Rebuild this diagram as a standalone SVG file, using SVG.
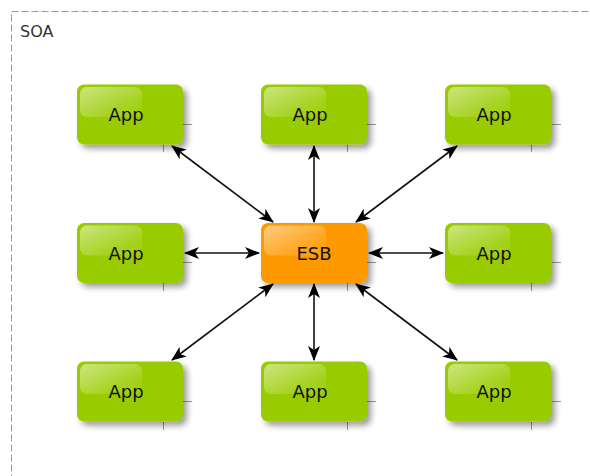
<svg xmlns="http://www.w3.org/2000/svg" width="590" height="476" viewBox="0 0 590 476">
<defs>
  <filter id="sh" x="-20%" y="-20%" width="150%" height="160%">
    <feGaussianBlur in="SourceAlpha" stdDeviation="3"/>
    <feOffset dx="4" dy="4" result="b"/>
    <feComponentTransfer><feFuncA type="linear" slope="0.4"/></feComponentTransfer>
    <feMerge><feMergeNode/><feMergeNode in="SourceGraphic"/></feMerge>
  </filter>
  <linearGradient id="gloss" x1="0" y1="0" x2="1" y2="1">
    <stop offset="0" stop-color="#fff" stop-opacity="0.5"/>
    <stop offset="0.7" stop-color="#fff" stop-opacity="0.12"/>
    <stop offset="1" stop-color="#fff" stop-opacity="0.05"/>
  </linearGradient>
  <marker id="ah" viewBox="0 0 15 12" refX="14" refY="6" markerWidth="15" markerHeight="12" markerUnits="userSpaceOnUse" orient="auto-start-reverse">
    <path d="M0,0 L15,6 L0,12 L4,6 Z" fill="#000"/>
  </marker>
</defs>
<style>
  .app rect.b { fill:#99cc00; }
  .esb rect.b { fill:#ff9900; }
  .gl { fill:url(#gloss); }
  .lbl { font-family:"DejaVu Sans",sans-serif; font-size:18px; fill:#111; text-anchor:middle; }
  .tick { stroke:#999; stroke-width:1; }
  .con line { stroke:#111; stroke-width:1.6; marker-start:url(#ah); marker-end:url(#ah); }
</style>
<rect x="11.5" y="11.5" width="600" height="500" fill="none" stroke="#999" stroke-dasharray="7,3"/>
<text x="20" y="37" font-family="DejaVu Sans, sans-serif" font-size="16" fill="#333">SOA</text>

<g id="app1" class="app">
  <line class="tick" x1="183" y1="124.5" x2="192" y2="124.5"/><line class="tick" x1="163.5" y1="144" x2="163.5" y2="152"/>
  <rect class="b" x="77" y="84.5" width="106" height="60" rx="7" filter="url(#sh)"/>
  <rect class="gl" x="80" y="87" width="62" height="30" rx="7"/>
  <text class="lbl" x="126" y="121">App</text>
</g>
<g id="app2" class="app">
  <line class="tick" x1="367" y1="124.5" x2="376" y2="124.5"/><line class="tick" x1="347.5" y1="144" x2="347.5" y2="152"/>
  <rect class="b" x="261" y="84.5" width="106" height="60" rx="7" filter="url(#sh)"/>
  <rect class="gl" x="264" y="87" width="62" height="30" rx="7"/>
  <text class="lbl" x="310" y="121">App</text>
</g>
<g id="app3" class="app">
  <line class="tick" x1="552" y1="124.5" x2="561" y2="124.5"/><line class="tick" x1="531.5" y1="144" x2="531.5" y2="152"/>
  <rect class="b" x="445" y="84.5" width="106" height="60" rx="7" filter="url(#sh)"/>
  <rect class="gl" x="448" y="87" width="62" height="30" rx="7"/>
  <text class="lbl" x="494" y="121">App</text>
</g>
<g id="app4" class="app">
  <line class="tick" x1="183" y1="262.5" x2="192" y2="262.5"/><line class="tick" x1="163.5" y1="283" x2="163.5" y2="291"/>
  <rect class="b" x="77" y="223" width="106" height="60" rx="7" filter="url(#sh)"/>
  <rect class="gl" x="80" y="225.5" width="62" height="30" rx="7"/>
  <text class="lbl" x="126" y="259.5">App</text>
</g>
<g id="esb" class="esb">
  <line class="tick" x1="367" y1="262.5" x2="376" y2="262.5"/><line class="tick" x1="347.5" y1="283" x2="347.5" y2="291"/>
  <rect class="b" x="261" y="223" width="106" height="60" rx="7" filter="url(#sh)"/>
  <rect class="gl" x="264" y="225.5" width="62" height="30" rx="7"/>
  <text class="lbl" x="314" y="259.5">ESB</text>
</g>
<g id="app5" class="app">
  <line class="tick" x1="552" y1="262.5" x2="561" y2="262.5"/><line class="tick" x1="531.5" y1="283" x2="531.5" y2="291"/>
  <rect class="b" x="445" y="223" width="106" height="60" rx="7" filter="url(#sh)"/>
  <rect class="gl" x="448" y="225.5" width="62" height="30" rx="7"/>
  <text class="lbl" x="494" y="259.5">App</text>
</g>
<g id="app6" class="app">
  <line class="tick" x1="183" y1="401.5" x2="192" y2="401.5"/><line class="tick" x1="163.5" y1="422" x2="163.5" y2="430"/>
  <rect class="b" x="77" y="361.5" width="106" height="60" rx="7" filter="url(#sh)"/>
  <rect class="gl" x="80" y="364" width="62" height="30" rx="7"/>
  <text class="lbl" x="126" y="398">App</text>
</g>
<g id="app7" class="app">
  <line class="tick" x1="367" y1="401.5" x2="376" y2="401.5"/><line class="tick" x1="347.5" y1="422" x2="347.5" y2="430"/>
  <rect class="b" x="261" y="361.5" width="106" height="60" rx="7" filter="url(#sh)"/>
  <rect class="gl" x="264" y="364" width="62" height="30" rx="7"/>
  <text class="lbl" x="310" y="398">App</text>
</g>
<g id="app8" class="app">
  <line class="tick" x1="552" y1="401.5" x2="561" y2="401.5"/><line class="tick" x1="531.5" y1="422" x2="531.5" y2="430"/>
  <rect class="b" x="445" y="361.5" width="106" height="60" rx="7" filter="url(#sh)"/>
  <rect class="gl" x="448" y="364" width="62" height="30" rx="7"/>
  <text class="lbl" x="494" y="398">App</text>
</g>

<g id="connectors" class="con">
  <line x1="172" y1="146" x2="273" y2="222"/>
  <line x1="314" y1="146" x2="314" y2="222"/>
  <line x1="457" y1="146" x2="356" y2="222"/>
  <line x1="185" y1="253" x2="259" y2="253"/>
  <line x1="443" y1="253" x2="369" y2="253"/>
  <line x1="172" y1="360" x2="273" y2="284"/>
  <line x1="314" y1="360" x2="314" y2="284"/>
  <line x1="457" y1="360" x2="356" y2="284"/>
</g>
</svg>
